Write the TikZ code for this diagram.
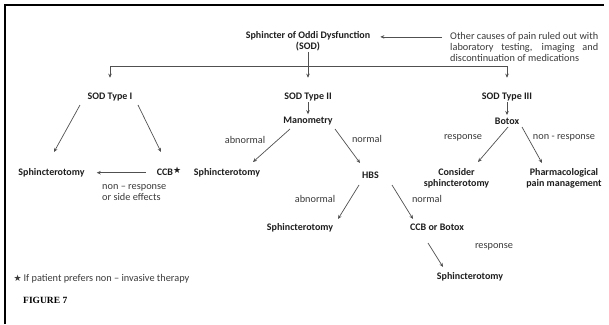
\documentclass[tikz,border=0pt]{standalone}
\usepackage{fontspec}
\setmainfont{Carlito}
\newfontfamily\starfont{DejaVu Sans}
\newfontfamily\figfont{Liberation Serif}
\usetikzlibrary{arrows.meta}

\definecolor{ctext}{HTML}{1E1E1E}
\definecolor{csoft}{HTML}{3A3A3A}
\definecolor{cline}{HTML}{505050}
\newcommand{\starmark}{{\starfont\fontsize{9}{9}\selectfont ★}}

\begin{document}
\begin{tikzpicture}[
    x=1pt, y=-1pt,
    every node/.style={font=\fontsize{10.3}{11}\selectfont, inner sep=1pt, text=csoft},
    box/.style={font=\fontsize{10}{11}\selectfont\bfseries, text=ctext, align=center},
    link/.style={draw=cline, line width=0.7pt},
    arr/.style={link, -{Stealth[length=4pt, width=3.5pt]}},
]
\useasboundingbox (0,0) rectangle (609,324);

% Frame (top and left edges only)
\draw[black, line width=2pt] (5,324) -- (5,5) -- (604,5);

% --- Root and side note ---
\node[box] (sod) at (308,41) {Sphincter of Oddi Dysfunction\\(SOD)};
\node[anchor=west, text width=148pt, align=justify] (other) at (449,46.7)
    {Other causes of pain ruled out with\linebreak laboratory testing, imaging and\linebreak discontinuation of medications};
\draw[arr, shorten <=7pt, shorten >=9pt] ([yshift=-6pt]other.north west) -- ([yshift=-6pt]other.north west -| sod.east);

% --- Three types ---
\coordinate (bus) at (308,66.7);
\node[box] (t1) at (110,97) {SOD Type I};
\node[box] (t2) at (308,97) {SOD Type II};
\node[box] (t3) at (507,97) {SOD Type III};

\draw[link] (sod.south) -- (bus);
\draw[arr, shorten >=14pt] (bus) -| (t1.north);
\draw[arr, shorten >=14pt] (bus) -- (t2.north);
\draw[arr, shorten >=14pt] (bus) -| (t3.north);

% --- Type I ---
\node[box] (s1) at (51.5,172.7) {Sphincterotomy};
\node[box] (ccb) at (169,172.7) {CCB\smash{\raisebox{2.5pt}{\starmark}}};
\node[anchor=west, align=left] (nr) at (101,192.2) {non – response\\or side effects};

\draw[arr] ([shift={(-30,8)}]t1.center) -- ([shift={(2.5,-20.7)}]s1.center);
\draw[arr] ([shift={(28,8)}]t1.center) -- ([shift={(-8,-20.7)}]ccb.center);
\draw[arr, shorten <=10pt, shorten >=11pt] (ccb.west) -- (ccb.west -| s1.east);

% --- Type II ---
\node[box] (mano) at (308,121.5) {Manometry};
\node[box] (s2) at (227,172.7) {Sphincterotomy};
\node[box] (hbs) at (370.5,175.7) {HBS};
\node[box] (s3) at (300,227.7) {Sphincterotomy};
\node[box] (cb) at (437,227.7) {CCB or Botox};
\node[box] (s4) at (470,276.7) {Sphincterotomy};

\node (ab1) at (245,140) {abnormal};
\node (no1) at (367,139) {normal};
\node (ab2) at (315,199) {abnormal};
\node (no2) at (427,199) {normal};
\node (re1) at (494,247.3) {response};

\draw[arr, shorten >=2pt] (t2.south) -- (mano.north);
\draw[arr] ([shift={(-18,7.5)}]mano.center) -- ([shift={(26,-10.7)}]s2.center);
\draw[arr] ([shift={(27,7.5)}]mano.center) -- ([shift={(-10.5,-12.7)}]hbs.center);
\draw[arr] ([shift={(-11.5,9.3)}]hbs.center) -- ([shift={(38,-8.7)}]s3.center);
\draw[arr] ([shift={(21.5,9.3)}]hbs.center) -- ([shift={(-24,-8.7)}]cb.center);
\draw[arr] ([shift={(-9,15.3)}]cb.center) -- ([shift={(-27,-9.7)}]s4.center);

% --- Type III ---
\node[box] (btx) at (507,121.5) {Botox};
\node[box] (cs) at (456.5,178) {Consider\\sphincterotomy};
\node[box] (pm) at (564,178) {Pharmacological\\pain management};

\node (re2) at (463,138) {response};
\node (nr2) at (564,138) {non - response};

\draw[arr, shorten >=2pt] (t3.south) -- (btx.north);
\draw[arr] ([shift={(1,5.5)}]btx.center) -- ([shift={(21.5,-16)}]cs.center);
\draw[arr] ([shift={(15,5.5)}]btx.center) -- ([shift={(-22,-15)}]pm.center);

% --- Footnote and caption ---
\node[anchor=west] (note) at (12.3,279) {\starmark\hspace{2pt}If patient prefers non – invasive therapy};
\node[anchor=west, font={\fontsize{9.5}{11}\figfont\bfseries}, text=black] (fig) at (22,300) {FIGURE 7};

\end{tikzpicture}
\end{document}
